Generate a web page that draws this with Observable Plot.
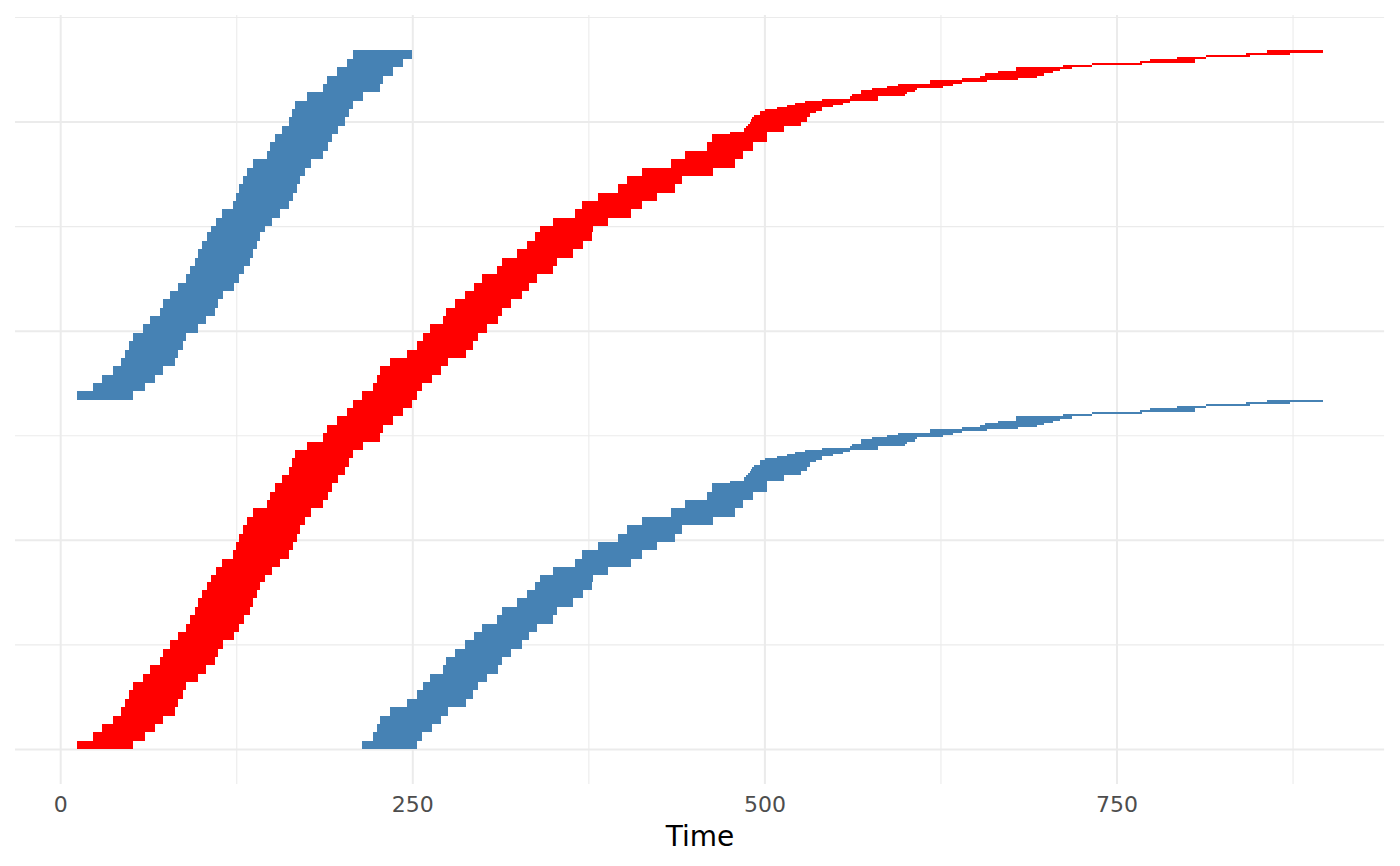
<!DOCTYPE html>
<html><head><meta charset="utf-8">
<script src="https://cdn.jsdelivr.net/npm/d3@7"></script>
<script src="https://cdn.jsdelivr.net/npm/@observablehq/plot@0.6"></script>
<style>body{margin:0;background:#fff} svg{display:block}</style>
</head><body><div id="chart"></div>
<script>
// Row blocks (subject index, bottom of each block), sorted by entry time
const rowBottom = [0,4,8,12,16,20,24,28,32,36,40,44,48,52,56,60,64,68,72,76,80,83,87,91,95,99,103,107,111,115,119,123,127,131,135,139,143,147,151,155,159,163,
  167,171,175,179,183,187,191,195,199,203,207,211,215,219,223,227,231,235,239,243,247,250,254,258,262,266,270,274,278,282,286,290,
  294,295,296,297,298,299,300,301,302,303,304,305,306,307,308,309,310,311,312,313,314,315,316,317,318,319,320,321,322,323,324,325,326,327,328,329,330,331,332,333];
const rowTop = 334;
// Entry and exit times per block
const startTime = [11.9,23.5,29.5,37.7,43.0,46.0,48.8,51.9,59.0,63.8,70.9,73.2,78.0,83.9,89.1,92.2,95.7,98.1,100.9,104.0,106.9,110.4,115.1,122.9,124.8,127.0,130.0,132.4,137.1,146.6,149.0,152.5,157.3,162.7,164.8,166.7,175.0,186.8,189.2,196.3,203.8,208.1,
  214.1,221.9,224.7,227.1,234.2,246.0,253.1,257.4,262.6,272.0,273.7,280.3,287.4,294.0,299.3,309.9,313.5,324.5,331.2,337.1,340.7,350.1,365.5,370.7,382.1,396.3,402.2,412.9,433.5,443.6,459.0,462.6,
  475.4,485.5,485.5,486.9,488.4,489.8,490.3,491.0,492.6,496.9,496.9,500.4,508.7,516.3,521.7,528.8,540.7,560.8,562.0,568.4,568.4,576.2,586.8,595.1,617.6,617.6,640.1,653.1,656.6,665.9,678.6,678.6,712.0,732.4,766.7,773.8,792.7,813.3,842.0,856.6];
const endTime = [51.5,60.2,67.3,73.2,81.5,83.9,87.4,89.3,98.1,103.3,109.9,112.3,115.8,123.4,127.0,130.5,134.8,137.1,139.9,141.9,145.4,150.6,156.1,162.7,165.1,167.9,170.3,173.8,177.9,186.8,190.4,192.8,197.5,202.2,204.8,207.9,214.8,227.1,229.0,236.5,243.6,249.6,
  253.5,256.7,263.8,270.4,275.6,287.9,293.3,296.4,302.8,311.1,313.5,319.9,328.1,333.1,338.3,350.1,352.5,364.3,371.4,377.4,378.5,389.2,405.1,412.9,423.5,436.5,441.3,463.7,479.1,485.0,492.1,501.6,
  501.6,513.9,513.9,513.9,526.0,526.0,530.3,530.3,532.4,532.4,536.6,540.7,540.7,548.9,556.0,560.8,580.4,580.4,599.8,601.0,606.9,608.6,627.0,634.1,640.1,657.8,680.1,693.3,698.5,704.9,709.9,718.2,732.4,768.0,805.7,805.7,813.3,845.0,873.2,896.4];
const splitRow = 167;

const xTicks = [0, 250, 500, 750];
const xMinor = [125, 375, 625, 875];
const yMajor = [0, 100, 200, 300];
const yMinor = [50, 150, 250, 350];
const xLabel = "Time";

const rows = rowBottom.map((b, i) => ({
  y1: b,
  y2: i + 1 < rowBottom.length ? rowBottom[i + 1] : rowTop,
  x1: startTime[i],
  x2: endTime[i]
}));
const blueUpper = rows.filter(d => d.y1 < splitRow).map(d => ({...d, y1: d.y1 + splitRow, y2: d.y2 + splitRow}));
const blueLower = rows.filter(d => d.y1 >= splitRow).map(d => ({...d, y1: d.y1 - splitRow, y2: d.y2 - splitRow}));

const gridColor = "#EBEBEB";
const plot = Plot.plot({
  width: 1400, height: 866,
  marginTop: 15, marginBottom: 82, marginLeft: 15, marginRight: 15.9,
  x: {domain: [-32.1, 940]},
  y: {domain: [-16.74, 350.96], axis: null},
  style: {fontFamily: "DejaVu Sans", background: "#fff"},
  marks: [
    Plot.gridX(xMinor, {stroke: gridColor, strokeOpacity: 1, strokeWidth: 1.1}),
    Plot.gridY(yMinor, {stroke: gridColor, strokeOpacity: 1, strokeWidth: 1.1}),
    Plot.gridX(xTicks, {stroke: gridColor, strokeOpacity: 1, strokeWidth: 2}),
    Plot.gridY(yMajor, {stroke: gridColor, strokeOpacity: 1, strokeWidth: 2}),
    Plot.rect(rows, {x1: "x1", x2: "x2", y1: "y1", y2: "y2", fill: "#FF0000", shapeRendering: "crispEdges"}),
    Plot.rect(blueUpper, {x1: "x1", x2: "x2", y1: "y1", y2: "y2", fill: "#4682B4", shapeRendering: "crispEdges"}),
    Plot.rect(blueLower, {x1: "x1", x2: "x2", y1: "y1", y2: "y2", fill: "#4682B4", shapeRendering: "crispEdges"}),
    Plot.axisX(xTicks, {tickSize: 0, tickPadding: 12, fontSize: 22, fill: "#4D4D4D", label: null}),
    Plot.text([xLabel], {frameAnchor: "bottom", dy: 61, fontSize: 28, fill: "#000"})
  ]
});
document.getElementById("chart").appendChild(plot);
</script>
</body></html>
